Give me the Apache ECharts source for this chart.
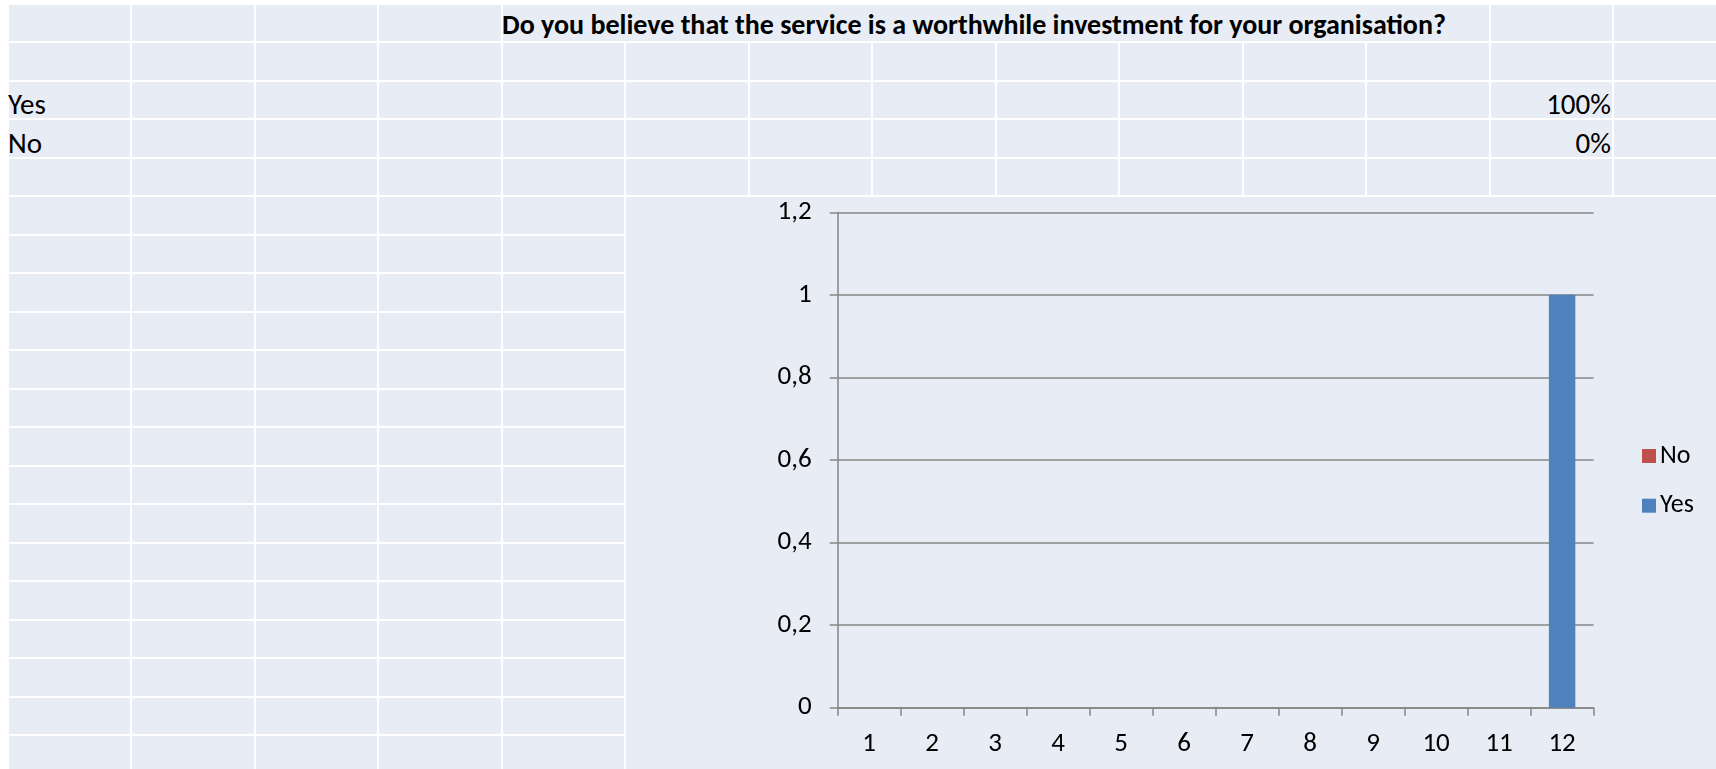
<!DOCTYPE html>
<html>
<head>
<meta charset="utf-8">
<script src="https://cdn.jsdelivr.net/npm/echarts@6/dist/echarts.min.js"></script>
<style>
  html, body { margin:0; padding:0; background:#ffffff; width:1716px; height:769px; overflow:hidden; }
  #sheet { position:absolute; left:0; top:0; width:1716px; height:769px; }
  .cell { position:absolute; background:#E8ECF4; }
  .txt { position:absolute; font-family: Carlito, Calibri, Lato, sans-serif; color:#000; white-space:nowrap; }
  #chart { position:absolute; left:626px; top:197px; width:1090px; height:572px; background:#E8ECF4; }
</style>
</head>
<body>
<div id="sheet"></div>
<div id="chart"></div>
<script>
// ---- data ----
const titleText = 'Do you believe that the service is a worthwhile investment for your organisation?';
const tableLabels = ['Yes', 'No'];
const tableValues = ['100%', '0%'];
const categories = ['1','2','3','4','5','6','7','8','9','10','11','12'];
const yesValues = [0,0,0,0,0,0,0,0,0,0,0,1];
const noValues  = [0,0,0,0,0,0,0,0,0,0,0,0];
const seriesNames = ['No', 'Yes'];

// ---- spreadsheet background grid ----
const sheet = document.getElementById('sheet');
const colW = 123.5, col0 = 7.5, rowH = 38.5, row0 = 3.5;
function addCell(x1, y1, x2, y2) {
  const d = document.createElement('div');
  d.className = 'cell';
  d.style.left = (x1 + 1) + 'px';
  d.style.top = (y1 + 1) + 'px';
  d.style.width = (x2 - x1 - 2) + 'px';
  d.style.height = (y2 - y1 - 2) + 'px';
  sheet.appendChild(d);
}
for (let r = 0; r < 20; r++) {
  const y1 = row0 + r * rowH, y2 = y1 + rowH;
  for (let c = 0; c < 14; c++) {
    const x1 = col0 + c * colW, x2 = x1 + colW;
    if (r === 0 && c >= 4 && c <= 11) {
      if (c === 4) addCell(x1, y1, col0 + 12 * colW, y2);
      continue;
    }
    addCell(x1, y1, x2, y2);
  }
}
function addText(str, left, baseline, opts) {
  const s = document.createElement('div');
  s.className = 'txt';
  s.textContent = str;
  const fs = (opts && opts.size) || 29;
  s.style.fontSize = fs + 'px';
  s.style.lineHeight = (fs * 1.2) + 'px';
  s.style.top = (baseline - fs * 0.96 + 2) + 'px';
  if (opts && opts.bold) s.style.fontWeight = 'bold';
  if (opts && opts.right) { s.style.right = (1716 - left) + 'px'; }
  else s.style.left = left + 'px';
  sheet.appendChild(s);
}
addText(titleText, 502, 33.3, {bold:true, size:28});
addText(tableLabels[0], 8, 113.3);
addText(tableLabels[1], 8, 151.7);
addText(tableValues[0], 1611, 113.3, {right:true});
addText(tableValues[1], 1611, 151.7, {right:true});

// ---- chart ----
const chart = echarts.init(document.getElementById('chart'));
const axisGray = '#868686';
const fontFam = 'Carlito, Calibri, Lato, sans-serif';
const fs = 27;
chart.setOption({
  backgroundColor: '#E8ECF4',
  animation: false,
  textStyle: { fontFamily: fontFam },
  grid: { left: 211.7, top: 15.3, width: 755.9, height: 495.4, containLabel: false },
  legend: {
    data: seriesNames,
    orient: 'vertical',
    left: 1011,
    top: 241,
    itemWidth: 14,
    itemHeight: 14,
    itemGap: 23.7,
    icon: 'rect',
    textStyle: { fontSize: 26, lineHeight: 25, color: '#000', fontFamily: fontFam, padding: [0,0,0,-1] }
  },
  xAxis: {
    type: 'category',
    data: categories,
    boundaryGap: true,
    axisLine: { show: true, lineStyle: { color: axisGray, width: 1.5 } },
    axisTick: { show: true, length: 8, inside: false, alignWithLabel: false, lineStyle: { color: axisGray, width: 1.5 } },
    axisLabel: { margin: 23, fontSize: fs, color: '#000', fontFamily: fontFam, interval: 0 },
    splitLine: { show: false }
  },
  yAxis: {
    type: 'value',
    min: 0,
    max: 1.2,
    interval: 0.2,
    axisLine: { show: true, lineStyle: { color: axisGray, width: 1.5 } },
    axisTick: { show: true, length: 8, lineStyle: { color: axisGray, width: 1.5 } },
    axisLabel: {
      margin: 26, fontSize: fs, color: '#000', fontFamily: fontFam,
      formatter: v => String(+v.toFixed(1)).replace('.', ',')
    },
    splitLine: { show: true, lineStyle: { color: axisGray, width: 1.5 } }
  },
  series: [
    { name: 'Yes', type: 'bar', stack: 'total', data: yesValues, barWidth: '42%', itemStyle: { color: '#4F81BD' } },
    { name: 'No', type: 'bar', stack: 'total', data: noValues, barWidth: '42%', itemStyle: { color: '#C0504D' } }
  ]
});
</script>
</body>
</html>
